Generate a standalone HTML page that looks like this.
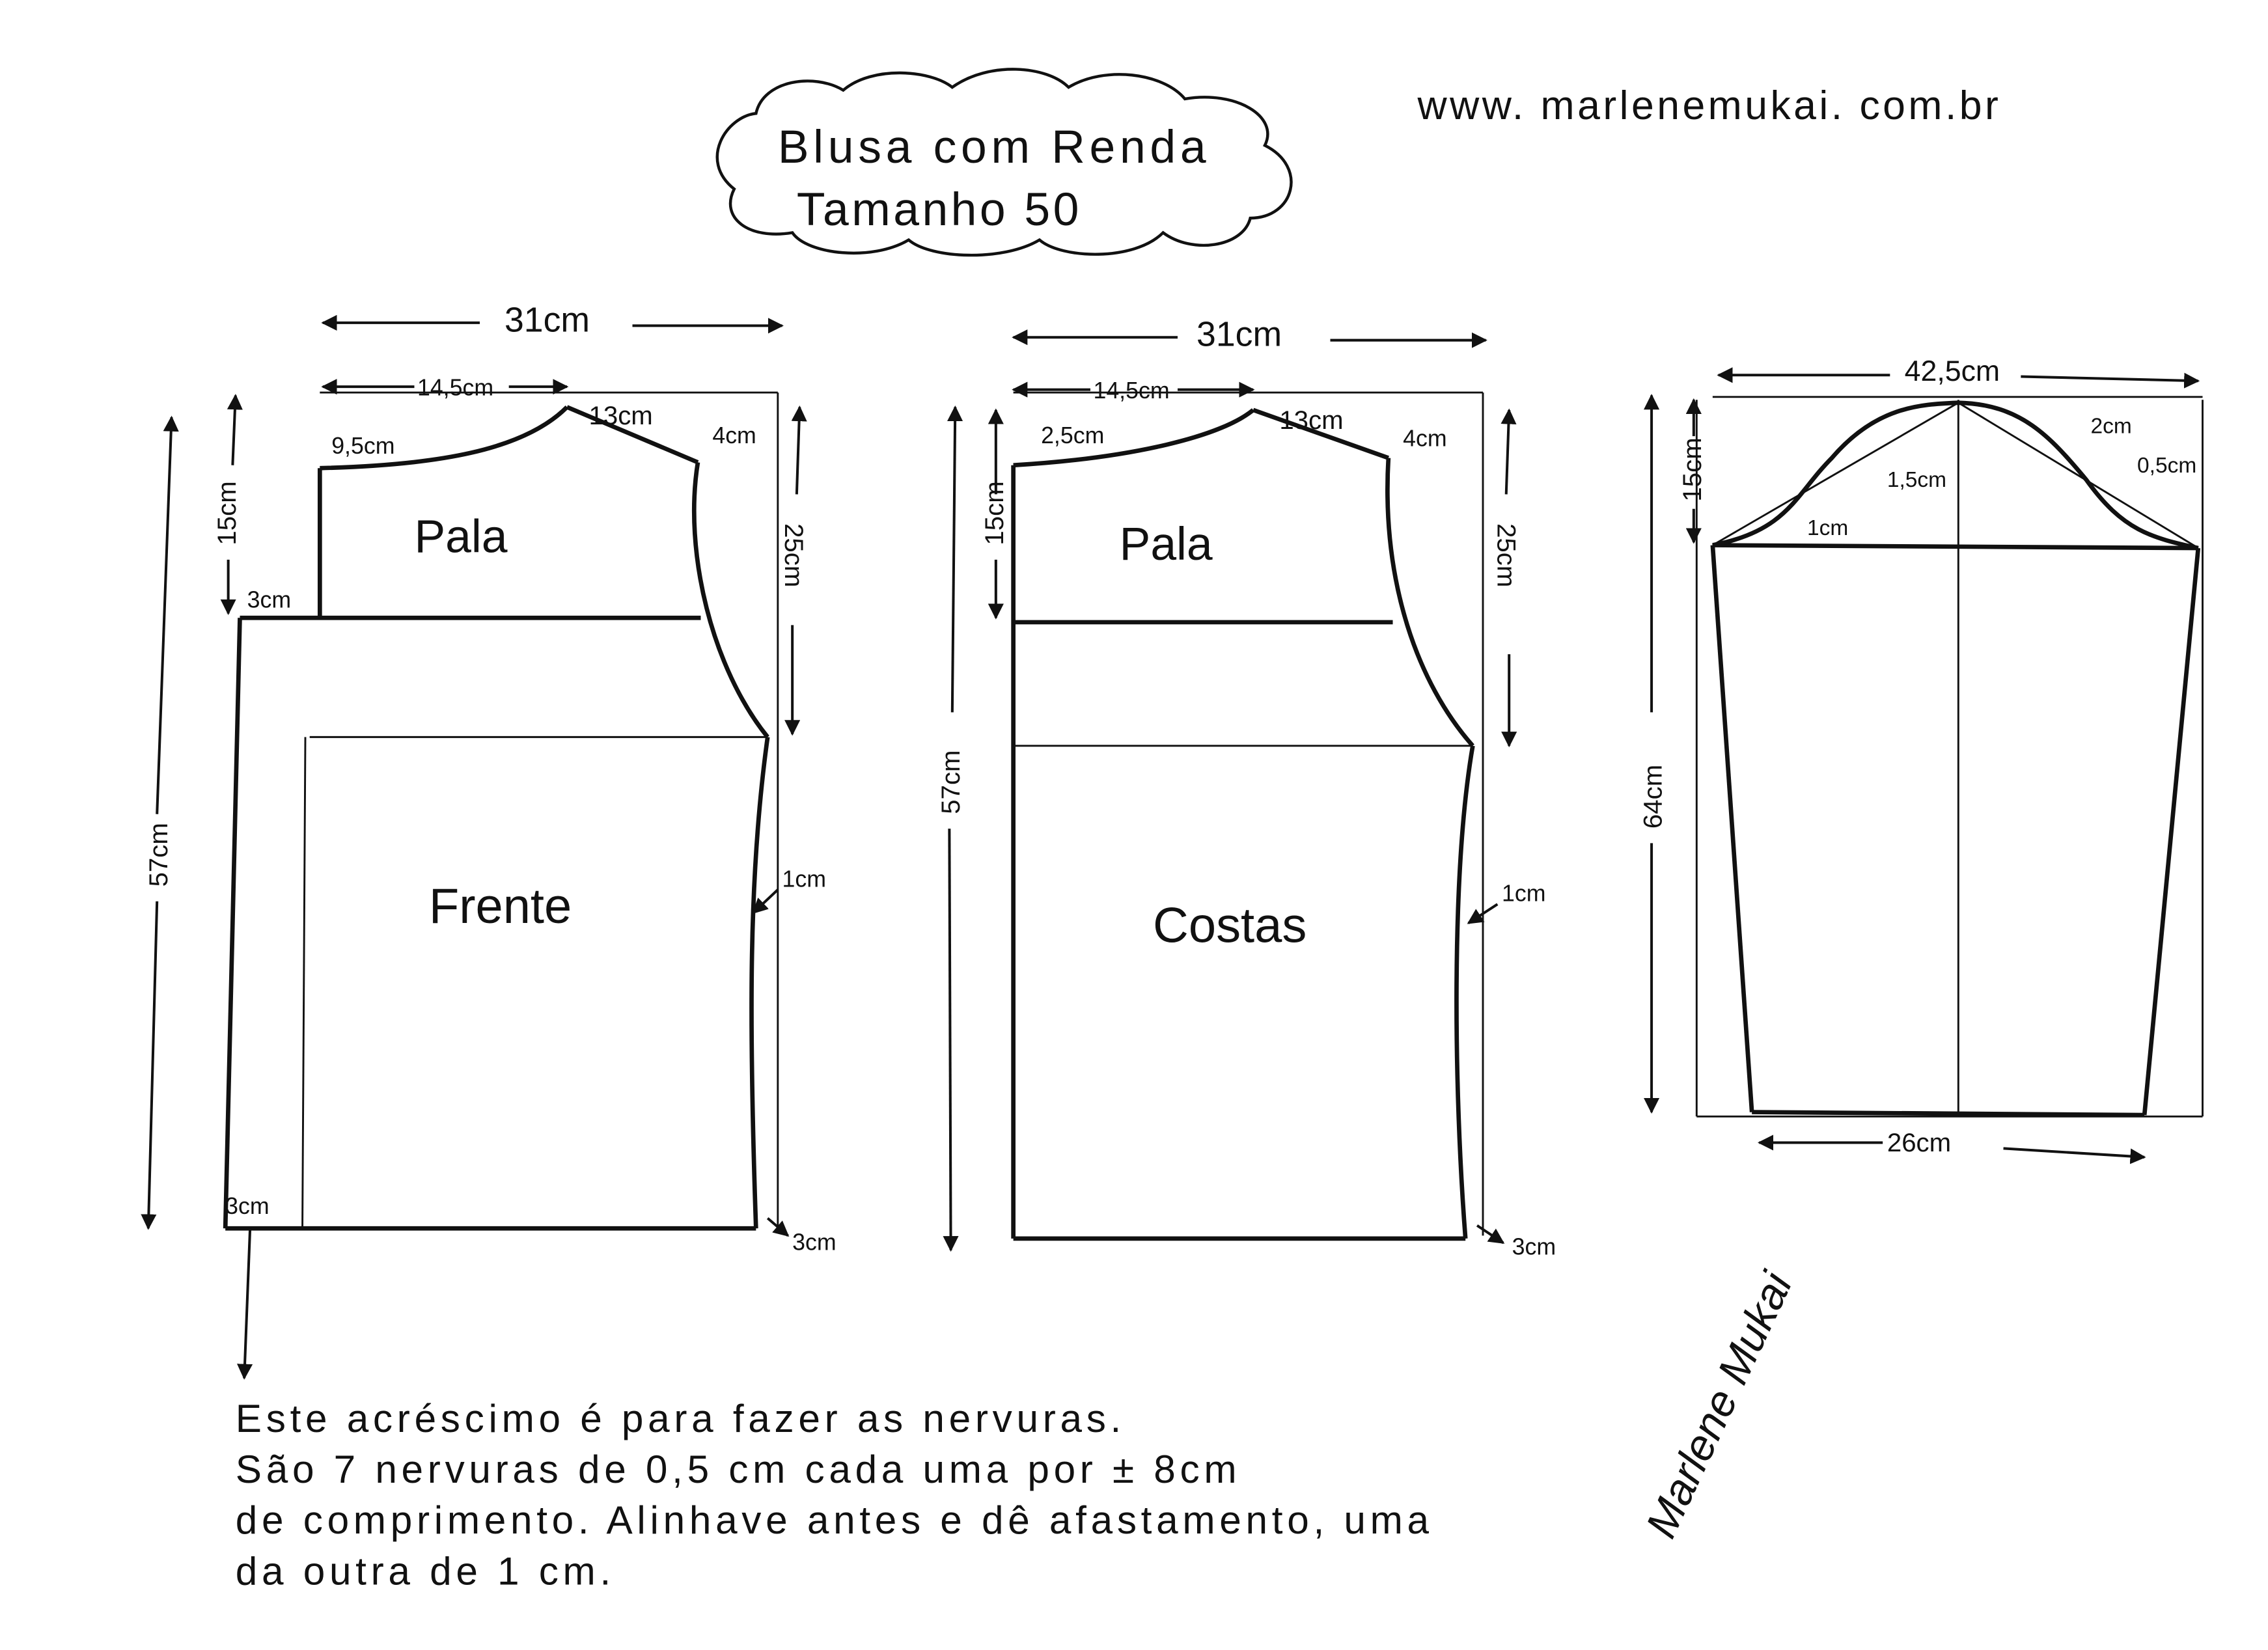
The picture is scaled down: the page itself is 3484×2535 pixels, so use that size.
<!DOCTYPE html>
<html><head><meta charset="utf-8"><style>
html,body{margin:0;padding:0;background:#fff;}
svg{display:block;}
text{font-family:"Liberation Sans",sans-serif;fill:#111;}
</style></head><body>
<svg width="3484" height="2535" viewBox="0 0 1560 1135" xmlns="http://www.w3.org/2000/svg">
<defs>
<marker id="a" viewBox="0 0 10 10" refX="9" refY="5" markerWidth="6" markerHeight="6" orient="auto-start-reverse"><path d="M0,0L10,5L0,10z" fill="#111"/></marker>
</defs>
<g fill="none" stroke="#111">
<path d="M505,130 C480,110 500,80 520,78 C525,55 560,50 580,62 C600,45 640,48 655,60 C680,42 720,45 735,60 C760,45 800,50 815,68 C850,62 880,80 870,100 C900,115 890,150 860,150 C855,170 820,175 800,160 C780,180 730,178 715,165 C690,180 640,178 625,165 C600,180 555,175 545,160 C515,165 495,150 505,130 Z" stroke-width="2"/>
<g stroke-width="1.3">
<line x1="220" y1="270" x2="535" y2="270"/>
<line x1="535" y1="270" x2="535" y2="845"/>
<line x1="213" y1="507" x2="528" y2="507"/>
<line x1="210" y1="507" x2="208" y2="845"/>
</g>
<g stroke-width="3">
<line x1="220" y1="322" x2="220" y2="425"/>
<path d="M220,322 C300,320 360,310 390,280"/>
<line x1="390" y1="280" x2="480" y2="318"/>
<path d="M480,318 C470,380 490,460 528,507"/>
<line x1="165" y1="425" x2="482" y2="425"/>
<line x1="165" y1="425" x2="155" y2="845"/>
<line x1="155" y1="845" x2="520" y2="845"/>
<path d="M528,507 C515,600 515,700 520,845"/>
</g>
<g stroke-width="1.3">
<line x1="697" y1="270" x2="1020" y2="270"/>
<line x1="1020" y1="270" x2="1020" y2="850"/>
<line x1="697" y1="513" x2="1013" y2="513"/>
</g>
<g stroke-width="3">
<line x1="697" y1="320" x2="697" y2="852"/>
<path d="M697,320 C780,315 840,300 862,282"/>
<line x1="862" y1="282" x2="955" y2="315"/>
<path d="M955,315 C950,400 975,470 1013,513"/>
<line x1="697" y1="428" x2="958" y2="428"/>
<line x1="697" y1="852" x2="1008" y2="852"/>
<path d="M1013,513 C998,600 1000,750 1008,852"/>
</g>
<g stroke-width="1.3">
<line x1="1178" y1="273" x2="1515" y2="273"/>
<line x1="1167" y1="275" x2="1167" y2="768"/>
<line x1="1515" y1="275" x2="1515" y2="768"/>
<line x1="1167" y1="768" x2="1515" y2="768"/>
<line x1="1347" y1="275" x2="1347" y2="765"/>
<line x1="1178" y1="375" x2="1347" y2="277"/>
<line x1="1347" y1="277" x2="1512" y2="377"/>
</g>
<g stroke-width="3">
<line x1="1178" y1="375" x2="1512" y2="377"/>
<path d="M1178,375 C1230,365 1235,340 1260,315 C1290,280 1320,278 1347,277 C1390,278 1410,300 1435,330 C1460,365 1480,370 1512,377"/>
<line x1="1178" y1="375" x2="1205" y2="765"/>
<line x1="1512" y1="377" x2="1475" y2="767"/>
<line x1="1205" y1="765" x2="1475" y2="767"/>
</g>
<g stroke-width="1.8" marker-end="url(#a)">
<line x1="330" y1="222" x2="222" y2="222"/>
<line x1="435" y1="224" x2="538" y2="224"/>
<line x1="285" y1="266" x2="222" y2="266"/>
<line x1="350" y1="266" x2="390" y2="266"/>
<line x1="108" y1="560" x2="118" y2="287"/>
<line x1="108" y1="620" x2="102" y2="845"/>
<line x1="160" y1="320" x2="162" y2="272"/>
<line x1="157" y1="385" x2="157" y2="422"/>
<line x1="548" y1="340" x2="550" y2="280"/>
<line x1="545" y1="430" x2="545" y2="505"/>
<line x1="172" y1="845" x2="168" y2="948"/>
<line x1="810" y1="232" x2="697" y2="232"/>
<line x1="915" y1="234" x2="1022" y2="234"/>
<line x1="750" y1="268" x2="697" y2="268"/>
<line x1="810" y1="268" x2="862" y2="268"/>
<line x1="655" y1="490" x2="657" y2="280"/>
<line x1="653" y1="570" x2="654" y2="860"/>
<line x1="685" y1="340" x2="685" y2="282"/>
<line x1="685" y1="385" x2="685" y2="425"/>
<line x1="1036" y1="340" x2="1038" y2="282"/>
<line x1="1038" y1="450" x2="1038" y2="513"/>
<line x1="1300" y1="258" x2="1182" y2="258"/>
<line x1="1390" y1="259" x2="1512" y2="262"/>
<line x1="1136" y1="490" x2="1136" y2="272"/>
<line x1="1136" y1="580" x2="1136" y2="765"/>
<line x1="1165" y1="300" x2="1165" y2="275"/>
<line x1="1165" y1="350" x2="1165" y2="373"/>
<line x1="1295" y1="786" x2="1210" y2="786"/>
<line x1="1378" y1="790" x2="1475" y2="796"/>
<line x1="535" y1="612" x2="518" y2="628"/>
<line x1="1030" y1="622" x2="1010" y2="635"/>
<line x1="528" y1="838" x2="542" y2="850"/>
<line x1="1016" y1="843" x2="1034" y2="855"/>
</g>
</g>
<g font-size="26">
<text x="535" y="112" font-size="32" letter-spacing="3">Blusa  com  Renda</text>
<text x="548" y="155" font-size="32" letter-spacing="2">Tamanho 50</text>
<text x="975" y="82" font-size="28" letter-spacing="2">www. marlenemukai. com.br</text>
<text x="347" y="228" font-size="24">31cm</text>
<text x="287" y="272" font-size="16">14,5cm</text>
<text x="405" y="292" font-size="18">13cm</text>
<text x="228" y="312" font-size="16">9,5cm</text>
<text x="490" y="305" font-size="16">4cm</text>
<text x="170" y="418" font-size="16">3cm</text>
<text x="155" y="835" font-size="16">3cm</text>
<text x="545" y="860" font-size="16">3cm</text>
<text x="538" y="610" font-size="16">1cm</text>
<text x="285" y="380" font-size="32">Pala</text>
<text x="295" y="635" font-size="34">Frente</text>
<text x="823" y="238" font-size="24">31cm</text>
<text x="752" y="274" font-size="16">14,5cm</text>
<text x="880" y="295" font-size="18">13cm</text>
<text x="716" y="305" font-size="16">2,5cm</text>
<text x="965" y="307" font-size="16">4cm</text>
<text x="1040" y="863" font-size="16">3cm</text>
<text x="1033" y="620" font-size="16">1cm</text>
<text x="770" y="385" font-size="32">Pala</text>
<text x="793" y="648" font-size="34">Costas</text>
<text x="1310" y="262" font-size="20">42,5cm</text>
<text x="1438" y="298" font-size="15">2cm</text>
<text x="1298" y="335" font-size="15">1,5cm</text>
<text x="1470" y="325" font-size="15">0,5cm</text>
<text x="1243" y="368" font-size="15">1cm</text>
<text x="1298" y="792" font-size="18">26cm</text>
<g font-size="18">
<text transform="translate(115,610) rotate(-90)">57cm</text>
<text transform="translate(162,375) rotate(-90)">15cm</text>
<text transform="translate(540,360) rotate(90)">25cm</text>
<text transform="translate(660,560) rotate(-90)">57cm</text>
<text transform="translate(690,375) rotate(-90)">15cm</text>
<text transform="translate(1030,360) rotate(90)">25cm</text>
<text transform="translate(1143,570) rotate(-90)">64cm</text>
<text transform="translate(1170,345) rotate(-90)">15cm</text>
</g>
<g font-size="27" letter-spacing="3">
<text x="162" y="985">Este  acréscimo  é   para   fazer  as  nervuras.</text>
<text x="162" y="1020">São  7  nervuras   de   0,5 cm  cada  uma  por  ± 8cm</text>
<text x="162" y="1055">de  comprimento. Alinhave antes  e  dê  afastamento, uma</text>
<text x="162" y="1090">da   outra  de   1  cm.</text>
</g>
<text transform="translate(1150,1060) rotate(-65)" font-size="30" font-style="italic">Marlene Mukai</text>
</g>
</svg>
</body></html>
